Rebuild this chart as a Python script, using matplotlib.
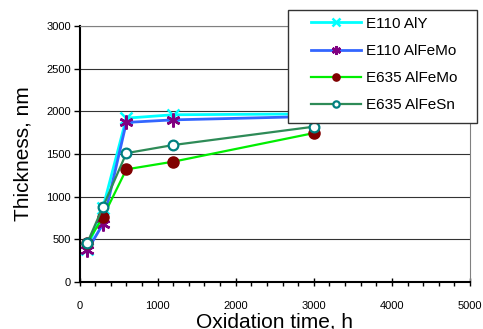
import numpy as np
import matplotlib.pyplot as plt
from matplotlib.ticker import MultipleLocator
from matplotlib.patches import Rectangle

plt.rcParams['font.family'] = ['Liberation Sans', 'DejaVu Sans']

###############################################################################
# Data

hours = [100, 300, 600, 1200, 3000]
e110_aly = [390, 870, 1920, 1960, 1970]
e110_alfemo = [370, 680, 1870, 1900, 1940]
e635_alfemo = [460, 760, 1320, 1410, 1745]
e635_alfesn = [460, 880, 1510, 1605, 1820]

labels = ['E110 AlY', 'E110 AlFeMo', 'E635 AlFeMo', 'E635 AlFeSn']

###############################################################################
# Plot

W, H = 483, 329
fig = plt.figure(figsize=(W / 100, H / 100), dpi=100)
ax = fig.add_axes([79.5 / W, 1 - 282 / H, (470 - 79.5) / W, (282 - 26) / H])

ax.plot(hours, e110_aly, color='#00ffff', lw=2, marker='x', ms=9, mew=1.8,
        label=labels[0], zorder=3)
ax.plot(hours, e110_alfemo, color='#3366ff', lw=2, marker=(6, 2, 0), ms=10,
        mew=1.8, mec='#800080', label=labels[1], zorder=4)
ax.plot(hours, e635_alfemo, color='#00ee00', lw=1.6, marker='o', ms=8,
        mfc='#800000', mec='#800000', label=labels[2], zorder=5)
ax.plot(hours, e635_alfesn, color='#2e8b57', lw=1.6, marker='o', ms=7,
        mfc='white', mec='#008080', mew=1.6, label=labels[3], zorder=6)

ax.set_xlim(0, 5000)
ax.set_ylim(0, 3000)
ax.xaxis.set_major_locator(MultipleLocator(1000))
ax.xaxis.set_minor_locator(MultipleLocator(200))
ax.yaxis.set_major_locator(MultipleLocator(500))

ax.grid(axis='y', color='#333333', lw=0.8)
ax.set_axisbelow(True)

ax.spines['left'].set_linewidth(1.5)
ax.spines['bottom'].set_linewidth(1.5)
ax.spines['top'].set_color('#808080')
ax.spines['right'].set_color('#808080')

ax.tick_params(axis='x', which='major', direction='inout', length=6, width=1,
               labelsize=8, pad=11)
ax.tick_params(axis='x', which='minor', direction='out', length=3, width=1)
ax.tick_params(axis='y', which='major', direction='out', length=4, width=1,
               labelsize=8, pad=2)

ax.set_xlabel('Oxidation time, h', fontsize=15, labelpad=0.5)
ax.set_ylabel('Thickness, nm', fontsize=15, labelpad=10)

# Legend box drawn by hand so the padding matches the original
fig.patches.append(Rectangle((288 / W, 1 - 123 / H), (477 - 288) / W, (123 - 10) / H,
                             transform=fig.transFigure, facecolor='white',
                             edgecolor='#333333', lw=1, zorder=10))
leg = fig.legend(loc='upper left', bbox_to_anchor=(306 / W, 1 - 12 / H),
                 borderaxespad=0, fontsize=11, frameon=False, handlelength=3.3,
                 labelspacing=0.87, borderpad=0.3, handletextpad=0.3,
                 markerscale=0.65)
leg.set_zorder(11)

fig.savefig('out.png', dpi=100)
